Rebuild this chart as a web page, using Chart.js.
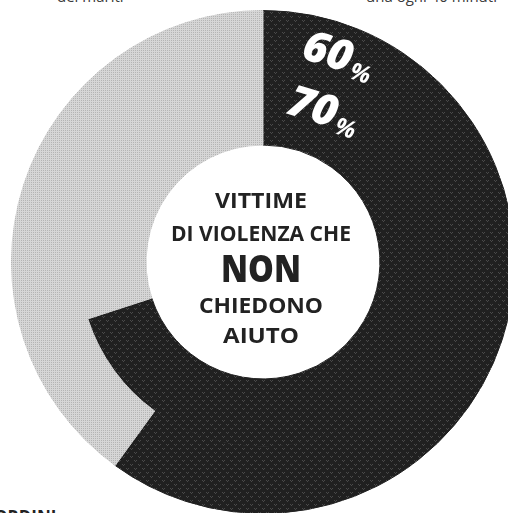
<!DOCTYPE html>
<html lang="it">
<head>
    <meta charset="UTF-8">
    <title>Vittime di violenza che non chiedono aiuto</title>
    <script src="https://cdn.jsdelivr.net/npm/chart.js"></script>
    <style>
        html, body {
            margin: 0;
            padding: 0;
            width: 508px;
            height: 513px;
            overflow: hidden;
            background: #ffffff;
        }
        #chart {
            position: absolute;
            left: 3px;
            top: 2px;
        }
        .frag {
            position: absolute;
            font-family: 'Open Sans', sans-serif;
            font-size: 15px;
            color: #3a3a3a;
            white-space: nowrap;
        }
    </style>
</head>
<body>
    <!-- pezzi di testo dell'articolo tagliati dal ritaglio -->
    <div class="frag" style="left:57px; top:-14px;">dei mariti</div>
    <div class="frag" style="left:366px; top:-14px;">una ogni 40 minuti</div>
    <div class="frag" style="left:-6px; top:505px; font-weight:700; font-size:17px; color:#222;">ORDINI</div>

    <canvas id="chart" width="520" height="520"></canvas>

    <script>
    // anello esterno e anello interno
    const ringLabels = ['60%', '70%'];
    const outerValues = [60, 40];
    const innerValues = [70, 30];
    const centerLines = ['VITTIME', 'DI VIOLENZA CHE', 'NON', 'CHIEDONO', 'AIUTO'];

    // trama scura e trama chiara (tipo retino di stampa)
    function makePattern(base, dot, dark) {
        const c = document.createElement('canvas');
        c.width = 8;
        c.height = 8;
        const g = c.getContext('2d');
        g.fillStyle = base;
        g.fillRect(0, 0, 8, 8);
        g.fillStyle = dot;
        if (dark) {
            // trattini diagonali
            for (let i = 0; i < 8; i += 4) {
                g.fillRect(i, 7 - i, 1, 1);
                g.fillRect(i + 1, 6 - i, 1, 1);
                g.fillRect((i + 3) % 8, (i + 2) % 8, 1, 1);
            }
        } else {
            // griglia di puntini
            for (let x = 0; x < 8; x += 2) {
                for (let y = 0; y < 8; y += 2) {
                    g.fillRect(x, y, 1, 1);
                }
            }
        }
        return g.createPattern(c, 'repeat');
    }

    const ctx = document.getElementById('chart').getContext('2d');
    const darkFill = makePattern('#202020', '#4a4a4a', true);
    const lightFill = makePattern('#d6d6d6', '#b4b4b4', false);

    const labelsPlugin = {
        id: 'labelsPlugin',
        afterDraw(chart) {
            const c = chart.ctx;
            const meta = chart.getDatasetMeta(0);
            const cx = meta.data[0].x;
            const cy = meta.data[0].y;

            // testo al centro
            c.save();
            c.fillStyle = '#222222';
            c.textAlign = 'center';
            c.textBaseline = 'middle';
            const ys = [-60, -27, 9, 45, 75];
            const widths = [92, 180, 80, 124, 76];
            centerLines.forEach((line, i) => {
                const big = i === 2;
                c.font = (big ? '800 37px' : '700 21px') + " 'Open Sans', sans-serif";
                const w = c.measureText(line).width;
                c.save();
                c.translate(cx - 2, cy + ys[i]);
                c.scale(widths[i] / w, 1);
                c.fillText(line, 0, 0);
                c.restore();
            });
            c.restore();

            // percentuali sugli anelli
            const pos = [[37, -204], [22, -149]];
            ringLabels.forEach((lab, i) => {
                const num = lab.replace('%', '');
                c.save();
                c.translate(cx + pos[i][0], cy + pos[i][1]);
                c.rotate(17 * Math.PI / 180);
                c.fillStyle = '#ffffff';
                c.textBaseline = 'alphabetic';
                c.textAlign = 'left';
                c.font = "italic 800 43px 'Open Sans', sans-serif";
                c.fillText(num, 0, 0);
                const w = c.measureText(num).width;
                c.font = "italic 700 24px 'Open Sans', sans-serif";
                c.fillText('%', w + 2, 5);
                c.restore();
            });
        }
    };

    new Chart(ctx, {
        type: 'doughnut',
        data: {
            labels: ['Sì', 'No'],
            datasets: [
                {
                    label: ringLabels[0],
                    data: outerValues,
                    backgroundColor: [darkFill, lightFill],
                    borderColor: [darkFill, lightFill],
                    borderWidth: 1
                },
                {
                    label: ringLabels[1],
                    data: innerValues,
                    backgroundColor: [darkFill, lightFill],
                    borderColor: [darkFill, lightFill],
                    borderWidth: 1
                }
            ]
        },
        options: {
            responsive: false,
            animation: false,
            cutout: '46.5%',
            layout: { padding: 8 },
            plugins: {
                legend: { display: false },
                tooltip: { enabled: false }
            }
        },
        plugins: [labelsPlugin]
    });
    </script>
</body>
</html>
